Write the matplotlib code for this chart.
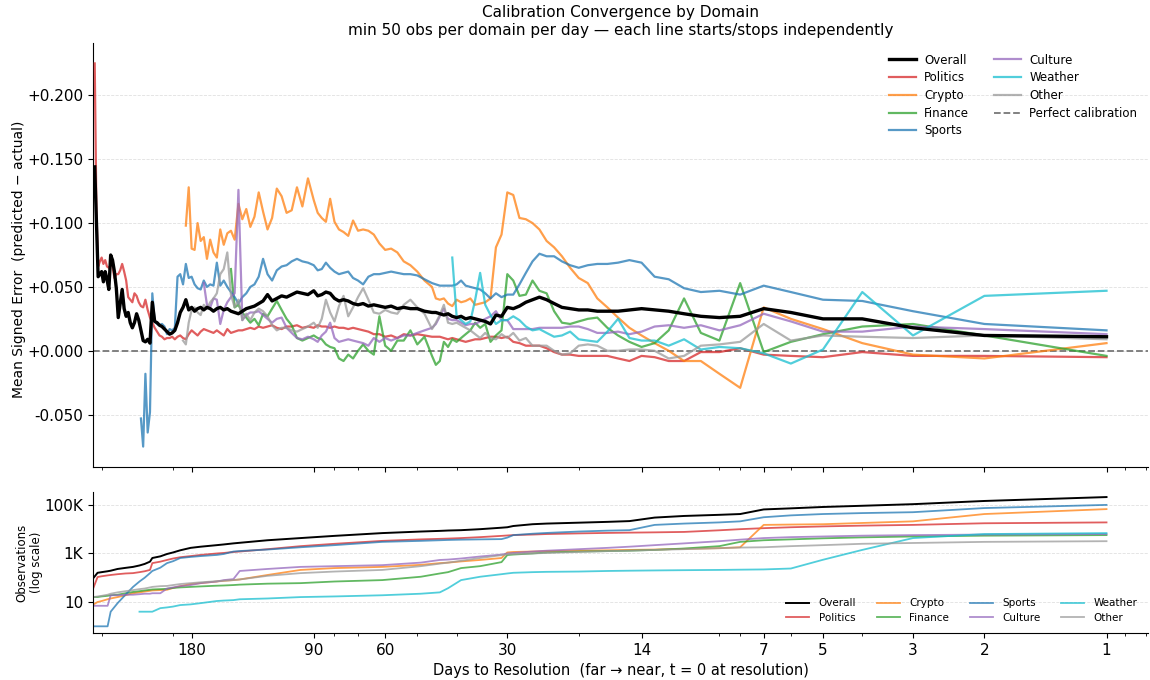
import numpy as np
import matplotlib
matplotlib.use("Agg")
import matplotlib.pyplot as plt
from matplotlib.ticker import FixedLocator, FuncFormatter, NullLocator, LogLocator, NullFormatter

# ---------------------------------------------------------------------------
# Daily grid (days to resolution). Far from resolution the series are sampled
# every 3 days, then every 2 days, then daily over the last 45 days.
# ---------------------------------------------------------------------------
DAYS = np.concatenate([np.arange(312, 92, -3), np.arange(90, 45, -2), np.arange(45, 0, -1)])

# Mean signed error (predicted - actual); each list ends at day 1 and starts
# on the first day the domain has enough observations.
err_overall = [
    0.144, 0.100, 0.058, 0.060, 0.062, 0.054, 0.062, 0.056, 0.048, 0.075,
    0.071, 0.062, 0.049, 0.026, 0.037, 0.048, 0.033, 0.027, 0.030, 0.022,
    0.018, 0.022, 0.029, 0.024, 0.016, 0.008, 0.007, 0.009, 0.006, 0.038,
    0.023, 0.022, 0.020, 0.019, 0.017, 0.015, 0.013, 0.014, 0.016, 0.022,
    0.030, 0.034, 0.040, 0.032, 0.034, 0.031, 0.033, 0.034, 0.032, 0.034,
    0.033, 0.031, 0.033, 0.034, 0.032, 0.033, 0.031, 0.030, 0.029, 0.031,
    0.033, 0.034, 0.035, 0.037, 0.039, 0.044, 0.039, 0.041, 0.043, 0.042,
    0.044, 0.046, 0.045, 0.044,
    0.047, 0.043, 0.044, 0.046, 0.045, 0.041, 0.039, 0.040, 0.039, 0.037,
    0.036, 0.037, 0.035, 0.036, 0.035, 0.034, 0.035, 0.033, 0.034, 0.033,
    0.033, 0.031, 0.030,
    0.030, 0.029, 0.028, 0.029, 0.027, 0.026, 0.027, 0.025, 0.026, 0.025,
    0.024, 0.023, 0.021, 0.028, 0.027, 0.034, 0.033, 0.035, 0.038, 0.040,
    0.042, 0.040, 0.037, 0.034, 0.033, 0.032, 0.032, 0.031, 0.031, 0.031,
    0.032, 0.033, 0.032, 0.031, 0.029, 0.027, 0.026, 0.027, 0.033, 0.030,
    0.025, 0.025, 0.018, 0.012, 0.011,
]
err_politics = [
    0.225, 0.110, 0.066, 0.070, 0.073, 0.068, 0.071, 0.066, 0.065, 0.067,
    0.066, 0.057, 0.060, 0.060, 0.063, 0.068, 0.062, 0.055, 0.042, 0.040,
    0.038, 0.045, 0.043, 0.038, 0.035, 0.034, 0.040, 0.032, 0.026, 0.022,
    0.018, 0.015, 0.012, 0.011, 0.009, 0.010, 0.010, 0.011, 0.009, 0.011,
    0.012, 0.010, 0.009, 0.013, 0.016, 0.014, 0.012, 0.015, 0.017, 0.016,
    0.015, 0.014, 0.016, 0.014, 0.012, 0.017, 0.014, 0.015, 0.016, 0.016,
    0.017, 0.018, 0.017, 0.019, 0.018, 0.019, 0.020, 0.018, 0.017, 0.019,
    0.019, 0.020, 0.018, 0.019,
    0.018, 0.020, 0.019, 0.019, 0.018, 0.019, 0.018, 0.018, 0.017, 0.018,
    0.017, 0.016, 0.015, 0.013, 0.013, 0.011, 0.012, 0.010, 0.013, 0.012,
    0.013, 0.012, 0.011,
    0.011, 0.011, 0.010, 0.009, 0.010, 0.009, 0.008, 0.007, 0.008, 0.009,
    0.009, 0.010, 0.011, 0.011, 0.010, 0.011, 0.007, 0.006, 0.004, 0.004,
    0.004, 0.002, -0.001, -0.003, -0.003, -0.004, -0.004, -0.004, -0.004, -0.006,
    -0.008, -0.004, -0.005, -0.008, -0.008, -0.001, -0.001, 0.002, -0.003, -0.004,
    -0.005, -0.001, -0.004, -0.004, -0.005,
]
err_crypto = [
    0.098, 0.128, 0.080, 0.079, 0.100, 0.086, 0.089, 0.072, 0.087, 0.077,
    0.073, 0.095, 0.083, 0.092, 0.094, 0.087, 0.115, 0.103, 0.111, 0.097,
    0.105, 0.124, 0.109, 0.095, 0.104, 0.127, 0.121, 0.108, 0.110, 0.128,
    0.113, 0.135,
    0.118, 0.108, 0.104, 0.101, 0.119, 0.101, 0.095, 0.093, 0.090, 0.102,
    0.094, 0.095, 0.094, 0.091, 0.084, 0.079, 0.080, 0.077, 0.070, 0.067,
    0.062, 0.055, 0.050,
    0.041, 0.040, 0.041, 0.037, 0.035, 0.040, 0.038, 0.039, 0.041, 0.036,
    0.037, 0.038, 0.041, 0.081, 0.091, 0.124, 0.122, 0.104, 0.103, 0.100,
    0.095, 0.086, 0.081, 0.074, 0.065, 0.057, 0.053, 0.041, 0.034, 0.026,
    0.018, 0.012, 0.006, 0.000, -0.008, -0.008, -0.018, -0.029, 0.034, 0.025,
    0.017, 0.006, -0.003, -0.006, 0.006,
]
err_finance = [
    0.064, 0.034, 0.036, 0.030, 0.026, 0.022, 0.025, 0.020, 0.029, 0.027,
    0.033, 0.039, 0.032, 0.025, 0.020, 0.010, 0.008, 0.010,
    0.012, 0.010, 0.009, 0.005, 0.003, 0.002, -0.006, -0.008, -0.003, -0.006,
    0.000, 0.005, 0.000, -0.003, 0.027, 0.004, 0.000, 0.008, 0.008, 0.016,
    0.005, 0.011, -0.004,
    -0.011, -0.008, 0.007, 0.003, 0.009, 0.007, 0.010, 0.013, 0.016, 0.022,
    0.018, 0.021, 0.007, 0.012, 0.016, 0.060, 0.055, 0.043, 0.044, 0.055,
    0.047, 0.045, 0.031, 0.022, 0.021, 0.023, 0.025, 0.026, 0.018, 0.012,
    0.007, 0.003, 0.006, 0.016, 0.041, 0.014, 0.008, 0.053, -0.001, 0.007,
    0.013, 0.019, 0.021, 0.012, -0.004,
]
err_sports = [
    -0.053, -0.075, -0.018, -0.064, -0.048, 0.045, 0.023, 0.021, 0.020, 0.021,
    0.019, 0.013, 0.017, 0.016, 0.018, 0.058, 0.060, 0.052, 0.068, 0.057,
    0.058, 0.052, 0.049, 0.048, 0.055, 0.050, 0.052, 0.051, 0.069, 0.051,
    0.055, 0.050, 0.046, 0.042, 0.037, 0.042, 0.045, 0.050, 0.052, 0.058,
    0.072, 0.060, 0.055, 0.063, 0.066, 0.067, 0.070, 0.072, 0.070, 0.069,
    0.067, 0.063, 0.064, 0.069, 0.065, 0.062, 0.060, 0.061, 0.062, 0.057,
    0.055, 0.052, 0.058, 0.060, 0.060, 0.061, 0.062, 0.061, 0.060, 0.060,
    0.059, 0.056, 0.053,
    0.052, 0.051, 0.051, 0.051, 0.051, 0.052, 0.055, 0.051, 0.050, 0.049,
    0.048, 0.045, 0.041, 0.045, 0.042, 0.044, 0.044, 0.052, 0.061, 0.070,
    0.076, 0.074, 0.074, 0.070, 0.067, 0.065, 0.067, 0.068, 0.068, 0.069,
    0.071, 0.069, 0.058, 0.056, 0.049, 0.046, 0.047, 0.044, 0.051, 0.046,
    0.040, 0.039, 0.031, 0.021, 0.016,
]
err_culture = [
    0.053, 0.036, 0.034, 0.041, 0.040, 0.021, 0.032, 0.038, 0.042, 0.045,
    0.126, 0.024, 0.028, 0.030, 0.030, 0.031, 0.028, 0.025, 0.022, 0.025,
    0.026, 0.018, 0.014, 0.010, 0.009, 0.011,
    0.009, 0.007, 0.012, 0.015, 0.022, 0.010, 0.007, 0.008, 0.009, 0.008,
    0.007, 0.006, 0.004, 0.010, 0.007, 0.010, 0.008, 0.010, 0.012, 0.012,
    0.014, 0.016, 0.018,
    0.021, 0.027, 0.033, 0.025, 0.024, 0.024, 0.022, 0.020, 0.021, 0.021,
    0.023, 0.025, 0.027, 0.031, 0.024, 0.024, 0.017, 0.017, 0.017, 0.017,
    0.018, 0.018, 0.018, 0.018, 0.019, 0.019, 0.017, 0.014, 0.014, 0.015,
    0.013, 0.015, 0.019, 0.020, 0.018, 0.020, 0.016, 0.020, 0.029, 0.023,
    0.015, 0.015, 0.019, 0.017, 0.013,
]
err_weather = [
    0.073, 0.027, 0.024, 0.021, 0.023, 0.040, 0.061, 0.036, 0.028, 0.021,
    0.024, 0.024, 0.027, 0.024, 0.019, 0.016, 0.017, 0.014, 0.011, 0.012,
    0.015, 0.009, 0.008, 0.007, 0.015, 0.025, 0.010, 0.008, 0.008, 0.004,
    0.009, 0.001, 0.003, 0.002, -0.002, -0.010, 0.001, 0.046, 0.012, 0.043,
    0.047,
]
err_other = [
    0.008, 0.005, 0.022, 0.032, 0.034, 0.030, 0.028, 0.036, 0.033, 0.038,
    0.041, 0.045, 0.060, 0.064, 0.077, 0.044, 0.034, 0.040, 0.024, 0.029,
    0.024, 0.030, 0.033, 0.031, 0.027, 0.020, 0.016, 0.018, 0.018, 0.016,
    0.015, 0.017, 0.019,
    0.022, 0.018, 0.025, 0.040, 0.030, 0.023, 0.035, 0.043, 0.027, 0.034,
    0.042, 0.049, 0.040, 0.030, 0.029, 0.032, 0.030, 0.029, 0.036, 0.040,
    0.034, 0.029, 0.017,
    0.022, 0.028, 0.036, 0.022, 0.021, 0.022, 0.020, 0.018, 0.016, 0.013,
    0.010, 0.014, 0.010, 0.009, 0.013, 0.010, 0.014, 0.008, 0.010, 0.004,
    0.004, 0.004, 0.000, -0.003, -0.002, 0.004, 0.005, 0.004, 0.000, 0.000,
    0.001, 0.001, 0.000, -0.006, -0.004, 0.004, 0.005, 0.007, 0.021, 0.008,
    0.012, 0.011, 0.010, 0.012, 0.009,
]

# Cumulative observation counts
OBS_DAYS = [314, 307, 300, 290, 285, 274, 262, 251, 242, 235,
            228, 225, 215, 207, 200, 192, 181, 171, 156, 150,
            142, 137, 117, 97, 80, 61, 49, 44, 42, 39,
            35, 31, 30, 29, 26, 24, 20, 17, 15, 13,
            11, 9, 8, 7, 6, 5, 4, 3, 2, 1]
obs_overall = [100, 160, 170, 185, 195, 230, 255, 280, 320, 370,
               460, 650, 760, 950, 1100, 1350, 1700, 1900, 2200, 2350,
               2600, 2750, 3500, 4300, 5300, 6900, 8000, 8500, 8800, 9100,
               10000, 11500, 12000, 13500, 16000, 17000, 18500, 20000, 21500, 30000,
               35000, 39000, 42000, 65000, 72000, 82000, 92000, 107000, 145000, 210000]
obs_politics = [40, 107, 115, 125, 130, 140, 150, 155, 170, 185,
                210, 400, 460, 540, 620, 700, 780, 870, 1000, 1050,
                1150, 1200, 1500, 2000, 2500, 3300, 3800, 4000, 4100, 4300,
                4700, 5300, 5500, 5700, 6000, 6300, 6700, 7000, 7200, 7400,
                7700, 9000, 10000, 11000, 12000, 13000, 14000, 15000, 17500, 19000]
obs_crypto = [8, 10, 11, 13, 14, 16, 19, 23, 25, 27,
              29, 30, 31, 32, 38, 45, 55, 60, 70, 75,
              80, 85, 130, 210, 250, 280, 340, 400, 420, 470,
              540, 650, 1100, 1150, 1200, 1250, 1300, 1350, 1400, 1450,
              1550, 1650, 1800, 15000, 15500, 16000, 18000, 21000, 42000, 67000]
obs_finance = [16, 16, 17, 18, 19, 20, 23, 26, 28, 30,
               32, 33, 34, 35, 38, 40, 42, 44, 47, 48,
               50, 52, 57, 60, 70, 80, 110, 150, 170, 250,
               300, 440, 860, 900, 1000, 1100, 1200, 1250, 1300, 1400,
               1600, 2000, 3000, 3500, 3800, 4200, 4600, 5000, 5400, 5700]
obs_sports = [1, 1, 1, 1, 4, 9, 20, 42, 70, 100,
              155, 190, 260, 400, 480, 650, 720, 780, 870, 950,
              1200, 1260, 1450, 1800, 2200, 3000, 3300, 3500, 3600, 3700,
              3800, 3900, 4500, 5700, 6500, 7000, 8000, 8700, 9100, 15000,
              17000, 19000, 21000, 31000, 37000, 42000, 46000, 50000, 74000, 100000]
obs_culture = [7, 7, 7, 7, 19, 19, 20, 20, 21, 22,
               22, 23, 23, 36, 40, 45, 50, 60, 70, 80,
               88, 190, 230, 280, 300, 330, 420, 540, 560, 620,
               750, 900, 1000, 1050, 1200, 1300, 1500, 1700, 1900, 2200,
               2600, 3200, 3700, 4300, 4700, 5000, 5400, 5700, 6000, 6300]
obs_weather = [4, 4, 4, 4, 5.6, 6, 6.5, 7.5, 8, 9,
               11, 11.5, 12, 13, 14, 16, 17, 19, 22, 25,
               37, 80, 110, 140, 150, 160, 170, 175, 180, 190,
               195, 200, 205, 210, 215, 220, 240, 550, 1400, 4300,
               6300, 6900]
obs_other = [16, 17, 18, 20, 22, 25, 28, 31, 34, 36,
             40, 42, 45, 46, 50, 55, 60, 65, 72, 75,
             80, 85, 120, 155, 180, 210, 300, 380, 420, 500,
             650, 850, 930, 950, 1000, 1050, 1150, 1250, 1300, 1400,
             1500, 1650, 1750, 1800, 2000, 2200, 2500, 2700, 3000, 3200]

DOMAINS = ["Politics", "Crypto", "Finance", "Sports", "Culture", "Weather", "Other"]
COLORS = {"Politics": "#d62728", "Crypto": "#ff7f0e", "Finance": "#2ca02c",
          "Sports": "#1f77b4", "Culture": "#9467bd", "Weather": "#17becf",
          "Other": "#9a9a9a"}
ERR = {"Politics": err_politics, "Crypto": err_crypto, "Finance": err_finance,
       "Sports": err_sports, "Culture": err_culture, "Weather": err_weather,
       "Other": err_other}
OBS = {"Politics": obs_politics, "Crypto": obs_crypto, "Finance": obs_finance,
       "Sports": obs_sports, "Culture": obs_culture, "Weather": obs_weather,
       "Other": obs_other}
XTICKS = [180, 90, 60, 30, 14, 7, 5, 3, 2, 1]

plt.rcParams["font.family"] = ["DejaVu Sans"]

fig = plt.figure(figsize=(11.5, 6.8), dpi=100)
ax = fig.add_axes([0.0809, 0.3132, 0.9174, 0.6236])
axb = fig.add_axes([0.0809, 0.0691, 0.9174, 0.2074], sharex=ax)

# --- top: mean signed error -------------------------------------------------
ax.plot(DAYS[-len(err_overall):], err_overall, color="black", lw=2.4,
        label="Overall", zorder=5)
for name in DOMAINS:
    vals = ERR[name]
    ax.plot(DAYS[-len(vals):], vals, color=COLORS[name], lw=1.6, alpha=0.75,
            label=name, zorder=3)
ax.axhline(0, color="#777777", ls="--", lw=1.3, label="Perfect calibration", zorder=2)

ax.set_xscale("log")
ax.set_xlim(315, 0.79)
ax.set_ylim(-0.091, 0.241)
ax.yaxis.set_major_formatter(FuncFormatter(lambda v, p: f"{v:+.3f}"))
ax.set_ylabel("Mean Signed Error  (predicted \u2212 actual)", fontsize=10)
ax.yaxis.set_label_coords(-0.064, 0.49)
ax.set_title("Calibration Convergence by Domain\n"
             "min 50 obs per domain per day \u2014 each line starts/stops independently",
             fontsize=11, pad=6)
ax.legend(loc="upper right", ncol=2, frameon=False, fontsize=8.5,
          handlelength=2.3, handletextpad=0.7, columnspacing=2.1, labelspacing=0.4,
          borderaxespad=0.5)

# --- bottom: observation counts ---------------------------------------------
axb.plot(OBS_DAYS, obs_overall, color="black", lw=1.4, label="Overall", zorder=5)
for name in DOMAINS:
    vals = OBS[name]
    axb.plot(OBS_DAYS[-len(vals):], vals, color=COLORS[name], lw=1.3, alpha=0.75,
             label=name)
axb.set_yscale("log")
axb.set_ylim(0.53, 3.4e5)
axb.yaxis.set_major_locator(FixedLocator([10, 1e3, 1e5]))
axb.yaxis.set_minor_locator(NullLocator())
axb.yaxis.set_major_formatter(FuncFormatter(
    lambda v, p: {10: "10", 1000: "1K", 100000: "100K"}.get(int(round(v)), "")))
axb.set_ylabel("Observations\n(log scale)", fontsize=8.5)
axb.yaxis.set_label_coords(-0.047, 0.5)
axb.set_xlabel("Days to Resolution  (far \u2192 near, t = 0 at resolution)", fontsize=10.5)
axb.legend(loc="lower right", ncol=4, frameon=False, fontsize=7.5,
           handlelength=2.2, handletextpad=0.9, columnspacing=2.0, labelspacing=0.4,
           borderaxespad=0.6)

# shared x axis: log scale, far on the left
axb.xaxis.set_major_locator(FixedLocator(XTICKS))
axb.xaxis.set_major_formatter(FuncFormatter(lambda v, p: f"{v:g}"))
axb.xaxis.set_minor_locator(LogLocator(base=10, subs=np.arange(2, 10)))
axb.xaxis.set_minor_formatter(NullFormatter())
ax.tick_params(labelbottom=False)

for a in (ax, axb):
    a.spines["top"].set_visible(False)
    a.spines["right"].set_visible(False)
    a.yaxis.grid(True, color="#e0e0e0", ls="--", lw=0.6)
    a.set_axisbelow(True)
    a.tick_params(axis="both", which="major", labelsize=11)

fig.savefig("out.png", dpi=100)
